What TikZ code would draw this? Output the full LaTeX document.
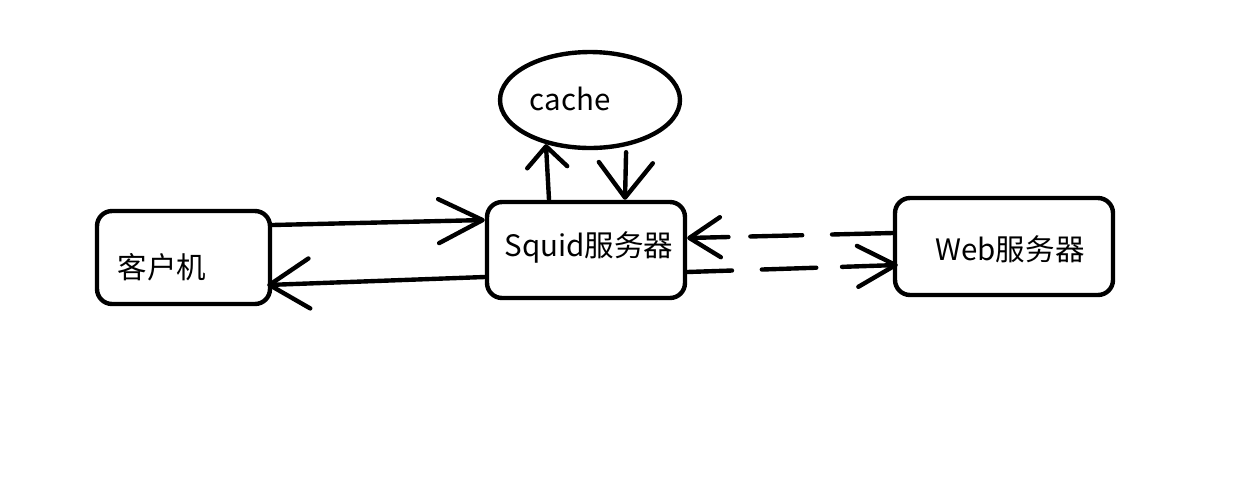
\documentclass[tikz,border=0pt]{standalone}
\usepackage{fontspec}
\setmainfont{Noto Sans CJK SC}
\usetikzlibrary{arrows.meta,shapes.geometric}
\tikzset{
  box/.style={draw, line width=2.5pt, rounded corners=0.3cm, inner sep=0pt},
  oval/.style={draw, ellipse, line width=2.5pt, inner sep=0pt},
  lbl/.style={font=\fontsize{16.8}{19}\selectfont, inner sep=0pt},
  conn/.style={line width=2.5pt, line cap=round},
  barb/.style 2 args={-{Straight Barb[length=#1, width=#2, round]}},
}
\begin{document}
\begin{tikzpicture}[x=0.02cm, y=-0.02cm]
\useasboundingbox (0,0) rectangle (1233,481);
\fill[white] (0,0) rectangle (1233,481);
% boxes
\node[box, minimum width=3.46cm, minimum height=1.86cm] (client) at (183.5,257.5) {};
\node[box, minimum width=3.96cm, minimum height=1.92cm] (squid) at (586,250) {};
\node[box, minimum width=4.36cm, minimum height=1.94cm] (web) at (1004,246.5) {};
\node[oval, minimum width=3.6cm, minimum height=1.92cm] (cache) at (590,100) {};
% labels
\node[lbl] (clientlbl) at (162,267) {客户机};
\node[lbl] (squidlbl) at (589,247) {Squid服务器};
\node[lbl] (weblbl) at (1010,249) {Web服务器};
\node[lbl] (cachelbl) at (570,99) {cache};
% connectors
\draw[conn, barb={0.88cm}{0.88cm}] ([yshift=0.65cm]client.east) -- ([yshift=0.6cm]squid.west);
\draw[conn, barb={0.8cm}{1.0cm}] ([yshift=-0.54cm]squid.west) -- ([xshift=-0.1cm,yshift=-0.55cm]client.east);
\draw[conn, barb={0.42cm}{0.8cm}] ([xshift=-0.74cm]squid.north) -- (cache.225);
\draw[conn, barb={0.7cm}{1.08cm}] ([yshift=-0.12cm]cache.308) -- ([xshift=0.78cm]squid.north);
\draw[conn, barb={0.62cm}{0.8cm}, dash pattern=on 34.6pt off 17pt on 29.5pt off 12.5pt on 40pt off 0pt]
  ([yshift=0.27cm]web.west) -- ([yshift=0.24cm]squid.east);
\draw[conn, barb={0.76cm}{0.82cm}, dash pattern=on 25.5pt off 17pt on 31pt off 14.7pt on 50pt off 0pt]
  ([yshift=-0.44cm]squid.east) -- ([xshift=0.1cm,yshift=-0.37cm]web.west);
\end{tikzpicture}
\end{document}
